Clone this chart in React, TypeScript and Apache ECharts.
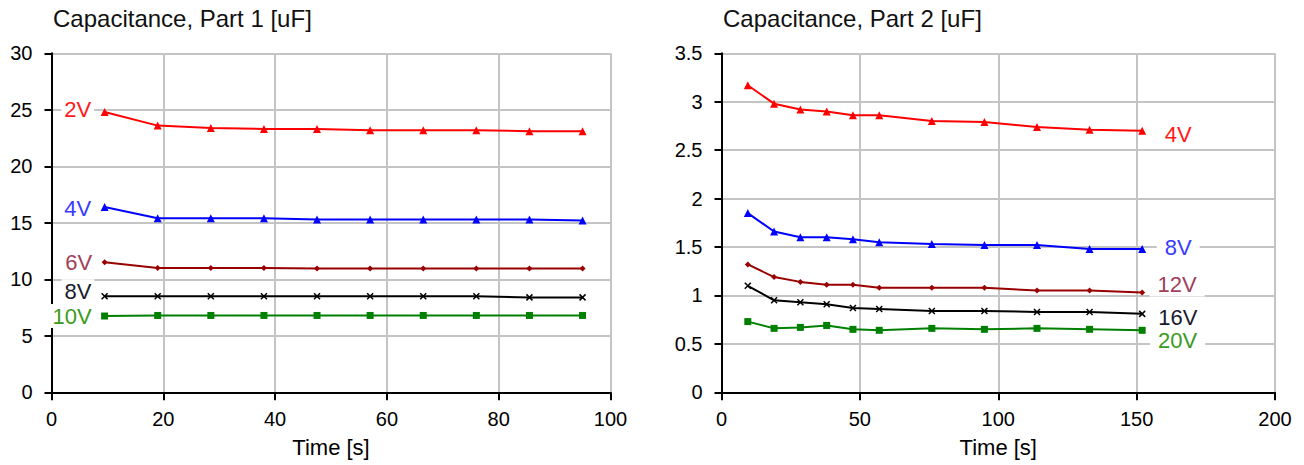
import React, { useEffect, useRef } from 'react';
import * as echarts from 'echarts';

// ---------- data ----------
const titles = ['Capacitance, Part 1 [uF]', 'Capacitance, Part 2 [uF]'];
const xAxisName = 'Time [s]';

const timeP1 = [9.5, 19, 28.5, 38, 47.5, 57, 66.5, 76, 85.5, 95];
const p1Names = ['2V', '4V', '6V', '8V', '10V'];
const p1V2 = [24.8, 23.6, 23.4, 23.3, 23.3, 23.2, 23.2, 23.2, 23.1, 23.1];
const p1V4 = [16.4, 15.4, 15.4, 15.4, 15.3, 15.3, 15.3, 15.3, 15.3, 15.2];
const p1V6 = [11.5, 11.0, 11.0, 11.0, 10.95, 10.95, 10.95, 10.95, 10.95, 10.95];
const p1V8 = [8.5, 8.5, 8.5, 8.5, 8.5, 8.5, 8.5, 8.5, 8.4, 8.4];
const p1V10 = [6.75, 6.8, 6.8, 6.8, 6.8, 6.8, 6.8, 6.8, 6.8, 6.8];

const timeP2 = [9.5, 19, 28.5, 38, 47.5, 57, 76, 95, 114, 133, 152];
const p2Names = ['4V', '8V', '12V', '16V', '20V'];
const p2V4 = [3.17, 2.98, 2.92, 2.9, 2.86, 2.86, 2.8, 2.79, 2.74, 2.71, 2.7];
const p2V8 = [1.85, 1.66, 1.6, 1.6, 1.58, 1.55, 1.53, 1.52, 1.52, 1.48, 1.48];
const p2V12 = [1.32, 1.19, 1.14, 1.11, 1.11, 1.08, 1.08, 1.08, 1.05, 1.05, 1.03];
const p2V16 = [1.1, 0.95, 0.93, 0.91, 0.87, 0.86, 0.84, 0.84, 0.83, 0.83, 0.81];
const p2V20 = [0.73, 0.66, 0.67, 0.69, 0.65, 0.64, 0.66, 0.65, 0.66, 0.65, 0.64];

const p1Values = [p1V2, p1V4, p1V6, p1V8, p1V10];
const p2Values = [p2V4, p2V8, p2V12, p2V16, p2V20];

// ---------- styles ----------
const FONT = '"Liberation Sans", Arial, sans-serif';
const XMARK = 'path://M0,0L10,10M10,0L0,10';

const p1Styles = [
  { color: '#ff0000', label: '#ff1a1a', symbol: 'triangle', size: 8, dy: -3 },
  { color: '#0000ff', label: '#3a3aff', symbol: 'triangle', size: 8, dy: 2 },
  { color: '#990000', label: '#a0405a', symbol: 'diamond', size: 6, dy: 0 },
  { color: '#000000', label: '#1a1a2e', symbol: XMARK, size: 6, dy: -5 },
  { color: '#008000', label: '#3a9a20', symbol: 'rect', size: 7, dy: 0 },
];
const p2Styles = [
  { color: '#ff0000', label: '#ff1a1a', symbol: 'triangle', size: 8, dy: 3.5 },
  { color: '#0000ff', label: '#3a3aff', symbol: 'triangle', size: 8, dy: -1.5 },
  { color: '#990000', label: '#a0405a', symbol: 'diamond', size: 6, dy: -8 },
  { color: '#000000', label: '#1a1a2e', symbol: XMARK, size: 6, dy: 3.5 },
  { color: '#008000', label: '#3a9a20', symbol: 'rect', size: 7, dy: 10 },
];

function buildSeries(
  times: number[],
  values: number[],
  name: string,
  st: any,
  gridIdx: number,
  side: 'left' | 'right'
) {
  const labelIdx = side === 'left' ? 0 : times.length - 1;
  const label =
    side === 'left'
      ? {
          show: true,
          position: 'left',
          distance: 6.5,
          formatter: name,
          color: st.label,
          fontSize: 22,
          fontFamily: FONT,
          backgroundColor: '#ffffff',
          padding: [1, 3],
          offset: [0, st.dy],
        }
      : {
          show: true,
          position: 'right',
          distance: 32,
          align: 'center',
          formatter: name,
          color: st.label,
          fontSize: 22,
          fontFamily: FONT,
          backgroundColor: '#ffffff',
          padding: [1, 8],
          offset: [0, st.dy],
        };
  return {
    type: 'line',
    name,
    xAxisIndex: gridIdx,
    yAxisIndex: gridIdx,
    data: times.map((t, i) =>
      i === labelIdx ? { value: [t, values[i]], label } : [t, values[i]]
    ),
    symbol: st.symbol,
    symbolSize: st.size,
    showAllSymbol: true,
    lineStyle: { color: st.color, width: 2 },
    itemStyle: {
      color: st.color,
      borderColor: st.color,
      borderWidth: st.symbol === XMARK ? 1.5 : 0,
    },
    label: { show: false },
    emphasis: { disabled: true },
    z: 3,
  };
}

function xAxisCfg(gridIndex: number, max: number, interval: number) {
  return {
    type: 'value',
    gridIndex,
    min: 0,
    max,
    interval,
    name: xAxisName,
    nameLocation: 'middle',
    nameGap: 44,
    nameTextStyle: { fontSize: 22, color: '#000', fontFamily: FONT },
    axisLine: { show: true, onZero: false, lineStyle: { color: '#000', width: 2 } },
    axisTick: { show: true, length: 8, lineStyle: { color: '#000', width: 2 } },
    axisLabel: { fontSize: 20, color: '#000', margin: 17, fontFamily: FONT },
    splitLine: { show: true, lineStyle: { color: '#c4c4c4', width: 2 } },
  };
}

function yAxisCfg(gridIndex: number, max: number, interval: number) {
  return {
    type: 'value',
    gridIndex,
    min: 0,
    max,
    interval,
    axisLine: { show: true, onZero: false, lineStyle: { color: '#000', width: 2 } },
    axisTick: { show: true, length: 7, lineStyle: { color: '#000', width: 2 } },
    axisLabel: { fontSize: 20, color: '#000', margin: 19, fontFamily: FONT },
    splitLine: { show: true, lineStyle: { color: '#c4c4c4', width: 2 } },
  };
}

export default function App() {
  const ref = useRef<HTMLDivElement>(null);
  useEffect(() => {
    if (!ref.current) return;
    const chart = echarts.init(ref.current, undefined, { renderer: 'svg' });
    const series: any[] = [];
    p1Names.forEach((n, i) =>
      series.push(buildSeries(timeP1, p1Values[i], n, p1Styles[i], 0, 'left'))
    );
    p2Names.forEach((n, i) =>
      series.push(buildSeries(timeP2, p2Values[i], n, p2Styles[i], 1, 'right'))
    );
    chart.setOption({
      animation: false,
      backgroundColor: '#ffffff',
      title: [
        {
          text: titles[0],
          left: 53,
          top: 6,
          padding: 0,
          textStyle: { fontSize: 24, fontWeight: 'normal', color: '#111', fontFamily: FONT },
        },
        {
          text: titles[1],
          left: 723,
          top: 6,
          padding: 0,
          textStyle: { fontSize: 24, fontWeight: 'normal', color: '#111', fontFamily: FONT },
        },
      ],
      grid: [
        { left: 51.5, top: 53.3, width: 559, height: 339, outerBoundsMode: 'none', containLabel: false },
        { left: 721.5, top: 53.3, width: 553.5, height: 339, outerBoundsMode: 'none', containLabel: false },
      ],
      xAxis: [xAxisCfg(0, 100, 20), xAxisCfg(1, 200, 50)],
      yAxis: [yAxisCfg(0, 30, 5), yAxisCfg(1, 3.5, 0.5)],
      series,
    });
    return () => chart.dispose();
  }, []);
  return (
    <div
      ref={ref}
      style={{ position: 'fixed', left: 0, top: 0, width: 1304, height: 465, background: '#fff' }}
    />
  );
}
